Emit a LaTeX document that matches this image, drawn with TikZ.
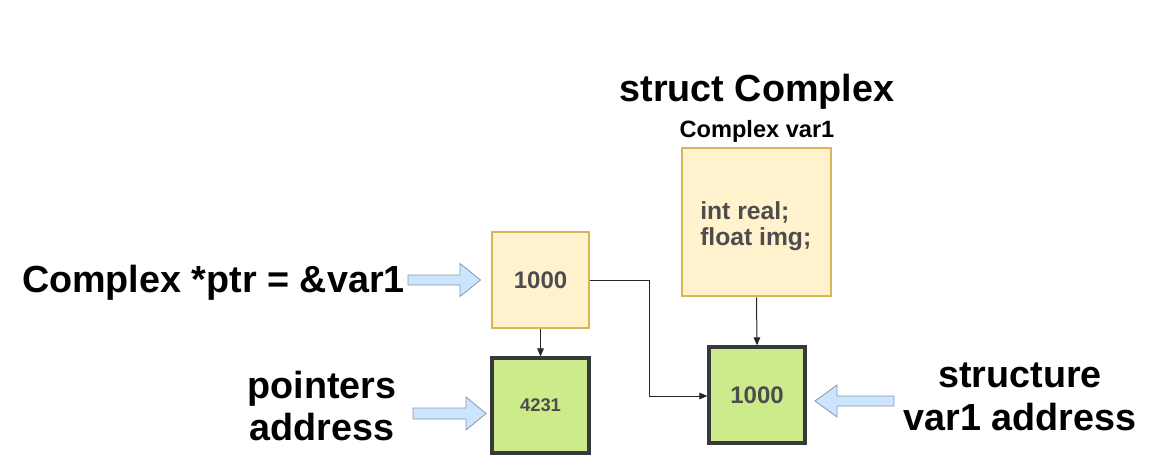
\documentclass[tikz,border=0pt]{standalone}
\usepackage{fontspec}
\setmainfont{Liberation Sans}
\usetikzlibrary{arrows.meta}
\definecolor{yfill}{HTML}{FFF2CC}
\definecolor{ydraw}{HTML}{D6B656}
\definecolor{gfill}{HTML}{CDEB8B}
\definecolor{gdraw}{HTML}{36393D}
\definecolor{bfill}{HTML}{CCE5FF}
\definecolor{bdraw}{HTML}{8A97A3}
\definecolor{boxtext}{HTML}{4D4D4D}
\tikzset{
  ybox/.style={draw=ydraw, fill=yfill, line width=2.2pt, inner sep=0pt, text=boxtext, font=\bfseries\fontsize{18}{20}\selectfont},
  gbox/.style={draw=gdraw, fill=gfill, line width=2.5pt, inner sep=0pt, text=boxtext, font=\bfseries\fontsize{18}{20}\selectfont},
  biglabel/.style={inner sep=0pt, font=\bfseries\fontsize{28.3}{32}\selectfont, align=center},
  conn/.style={draw=black!85, line width=0.75pt, -{Triangle[length=6pt,width=5pt]}},
  blockarrow/.style={draw=bdraw, fill=bfill, line width=0.6pt, line join=miter},
}
\begin{document}
\begin{tikzpicture}[x=0.75pt, y=-0.75pt]
\useasboundingbox[fill=white] (0,0) rectangle (1162,470);

% boxes
\node[ybox, minimum width=72.75pt, minimum height=72pt] (ptr) at (540.5,280) {1000};
\node[gbox, minimum width=72.75pt, minimum height=71.25pt, font=\bfseries\fontsize{13.8}{16}\selectfont] (paddr) at (540.5,405.5) {4231};
\node[ybox, minimum width=111.75pt, minimum height=111pt] (big) at (756.5,222) {};
\node[inner sep=0pt, anchor=west, align=left, text=boxtext, font=\bfseries\fontsize{18.5}{19.5}\selectfont] (fields) at (700,226) {int real;\\float img;};
\node[gbox, minimum width=72pt, minimum height=72pt] (var) at (757,395) {1000};

% titles
\node[biglabel] (title) at (757,92) {struct Complex};
\node[inner sep=0pt, font=\bfseries\fontsize{17.7}{20}\selectfont] (varname) at (757,131) {Complex var1};

% labels
\node[biglabel, anchor=east] (ptrlabel) at (405,283) {Complex *ptr = \&var1};
\node[biglabel] (plabel) at (322,406) {pointers\\address};
\node[biglabel] (slabel) at (1020,397) {structure\\var1 address};

% connectors
\draw[conn] (ptr.south) -- (paddr.north);
\draw[conn] (big.south) -- (var.north);
\draw[conn] (ptr.east) -- (649,280) -- (649,396) -- (var.west |- 0,396);

% block arrows
\draw[blockarrow] (408,275) -- (460,275) -- (460,263.5) -- (480.5,280) -- (460,296.5) -- (460,285) -- (408,285) -- cycle;
\draw[blockarrow] (413,408) -- (466,408) -- (466,397) -- (486,413.5) -- (466,430) -- (466,419) -- (413,419) -- cycle;
\draw[blockarrow] (894,396) -- (837,396) -- (837,385) -- (815,401) -- (837,417) -- (837,406) -- (894,406) -- cycle;
\end{tikzpicture}
\end{document}
